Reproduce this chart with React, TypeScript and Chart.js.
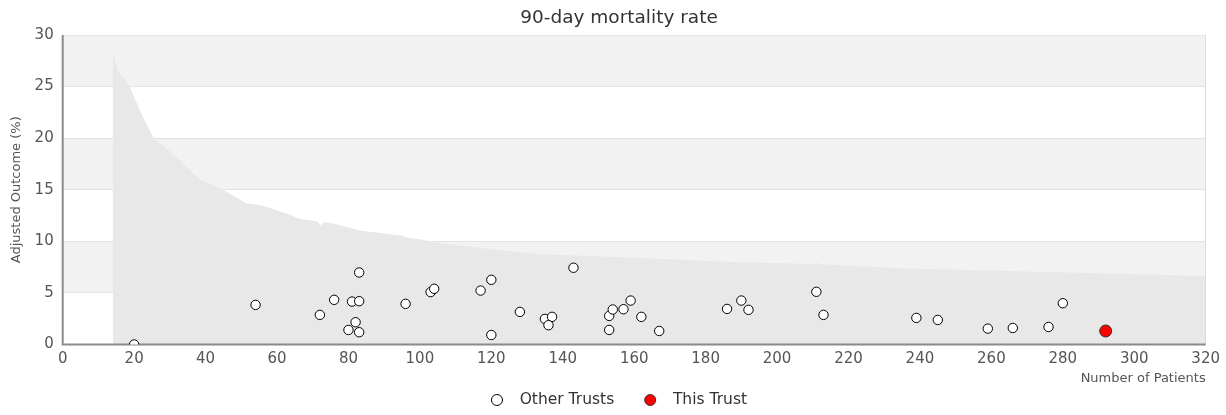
import { useEffect, useRef } from "react";
import { Chart, registerables } from "chart.js";

Chart.register(...registerables);

const TITLE = "90-day mortality rate";
const X_TITLE = "Number of Patients";
const Y_TITLE = "Adjusted Outcome (%)";
const LEGEND_LABELS = ["Other Trusts", "This Trust"];

const X_MIN = 0;
const X_MAX = 320;
const X_STEP = 20;
const Y_MIN = 0;
const Y_MAX = 30;
const Y_STEP = 5;

// shaded horizontal bands (y ranges)
const BANDS = [
  [5, 10],
  [15, 20],
  [25, 30],
];

// Upper control limit (funnel)
const limitPatients = [
  14, 15.5, 17.8, 18.8, 22.5, 25.3, 26.7, 29.5, 38.4, 40.2, 44.9, 51.4, 53.8, 58, 60.8, 63.5, 66.3,
  71.5, 72, 73.3, 76.1, 83.1, 95.2, 96, 100.8, 103.6, 119.4, 133.4, 145.5, 167, 186.6, 209.9, 211,
  212, 234, 259, 287, 320,
];
const limitOutcome = [
  28.4, 26.5, 25.6, 24.9, 22.0, 20.1, 19.6, 18.9, 16.0, 15.7, 15.0, 13.7, 13.6, 13.25, 12.9, 12.6,
  12.2, 11.9, 11.5, 11.85, 11.7, 11.05, 10.55, 10.4, 10.15, 9.9, 9.25, 8.75, 8.6, 8.3, 8.0, 7.8,
  7.95, 7.78, 7.4, 7.18, 6.93, 6.65,
];

const otherPatients = [
  20, 54, 72, 76, 81, 83, 83, 82, 80, 83, 96, 103, 104, 117, 120, 120, 128, 135, 137, 136, 143, 153,
  153, 154, 157, 159, 162, 167, 186, 190, 192, 211, 213, 239, 245, 259, 266, 276, 280,
];
const otherOutcome = [
  0, 3.84, 2.87, 4.33, 4.16, 4.2, 6.98, 2.16, 1.41, 1.19, 3.94, 5.08, 5.4, 5.23, 6.27, 0.92, 3.16,
  2.48, 2.68, 1.87, 7.44, 2.77, 1.41, 3.39, 3.42, 4.26, 2.68, 1.31, 3.45, 4.26, 3.36, 5.11, 2.87,
  2.58, 2.38, 1.54, 1.6, 1.7, 4.0,
];

const thisPatients = [292];
const thisOutcome = [1.31];

const FONT = "'DejaVu Sans', Verdana, sans-serif";

export default function App() {
  const ref = useRef<HTMLCanvasElement | null>(null);

  useEffect(() => {
    document.body.style.margin = "0";
    document.body.style.overflow = "hidden";
    const canvas = ref.current;
    if (!canvas) return;

    const bandsPlugin = {
      id: "bands",
      beforeDraw(chart: any) {
        const { ctx, chartArea, scales } = chart;
        ctx.save();
        ctx.fillStyle = "#ffffff";
        ctx.fillRect(chartArea.left, chartArea.top, chartArea.right - chartArea.left, chartArea.bottom - chartArea.top);
        ctx.fillStyle = "#f2f2f2";
        for (const [a, b] of BANDS) {
          const y1 = scales.y.getPixelForValue(b);
          const y2 = scales.y.getPixelForValue(a);
          ctx.fillRect(chartArea.left, y1, chartArea.right - chartArea.left, y2 - y1);
        }
        ctx.restore();
      },
      afterDatasetDraw(chart: any, args: any) {
        if (args.index !== 2) return;
        const { ctx, chartArea } = chart;
        ctx.save();
        ctx.strokeStyle = "#dcdcdc";
        ctx.lineWidth = 1;
        ctx.beginPath();
        ctx.moveTo(Math.round(chartArea.right) - 0.5, chartArea.top);
        ctx.lineTo(Math.round(chartArea.right) - 0.5, chartArea.bottom);
        ctx.stroke();
        ctx.strokeStyle = "#8a8a8a";
        ctx.lineWidth = 2;
        ctx.beginPath();
        ctx.moveTo(chartArea.left, chartArea.top);
        ctx.lineTo(chartArea.left, chartArea.bottom);
        ctx.lineTo(chartArea.right, chartArea.bottom);
        ctx.stroke();
        ctx.restore();
      },
      afterDraw(chart: any) {
        const { ctx } = chart;
        ctx.save();
        // title
        ctx.font = `18.5px ${FONT}`;
        ctx.textBaseline = "middle";
        ctx.textAlign = "center";
        ctx.fillStyle = "#333333";
        ctx.fillText(TITLE, 619, 18);
        // legend
        ctx.font = `15.5px ${FONT}`;
        ctx.textAlign = "left";
        const w1 = ctx.measureText(LEGEND_LABELS[0]).width;
        const w2 = ctx.measureText(LEGEND_LABELS[1]).width;
        const r = 5.5;
        const gapMarkerText = 22.7;
        const gapItems = 36;
        const total = r + gapMarkerText + w1 + gapItems + gapMarkerText + w2 + r;
        const cx = 622;
        const y = 400;
        let x = cx - total / 2 + r;
        const markers = [
          { fill: "#ffffff", stroke: "#000000" },
          { fill: "#ff0000", stroke: "#333333" },
        ];
        const widths = [w1, w2];
        for (let i = 0; i < 2; i++) {
          ctx.beginPath();
          ctx.arc(x, y, r, 0, Math.PI * 2);
          ctx.fillStyle = markers[i].fill;
          ctx.fill();
          ctx.lineWidth = 1;
          ctx.strokeStyle = markers[i].stroke;
          ctx.stroke();
          ctx.fillStyle = "#333333";
          ctx.fillText(LEGEND_LABELS[i], x + gapMarkerText, y);
          x += gapMarkerText + widths[i] + gapItems;
        }
        ctx.restore();
      },
    };

    const chart = new Chart(canvas, {
      type: "scatter",
      data: {
        datasets: [
          {
            label: LEGEND_LABELS[1],
            data: thisPatients.map((x, i) => ({ x, y: thisOutcome[i] })),
            backgroundColor: "#ff0000",
            borderColor: "#333333",
            borderWidth: 1,
            pointRadius: 6,
          },
          {
            label: LEGEND_LABELS[0],
            data: otherPatients.map((x, i) => ({ x, y: otherOutcome[i] })),
            backgroundColor: "#ffffff",
            borderColor: "#000000",
            borderWidth: 1,
            pointRadius: 4.7,
          },
          {
            type: "line",
            label: "Upper limit",
            data: limitPatients.map((x, i) => ({ x, y: limitOutcome[i] })),
            showLine: true,
            fill: "origin",
            backgroundColor: "#e8e8e8",
            borderColor: "#e8e8e8",
            borderWidth: 0,
            pointRadius: 0,
            tension: 0,
          } as any,
        ],
      },
      options: {
        responsive: false,
        animation: false,
        events: [],
        layout: { padding: { left: 0, right: 19.5, top: 35, bottom: 25.5 } },
        plugins: {
          legend: { display: false },
          tooltip: { enabled: false },
          title: { display: false },
        },
        scales: {
          x: {
            type: "linear",
            min: X_MIN,
            max: X_MAX,
            grid: { display: false, drawTicks: false },
            border: { display: false },
            ticks: {
              stepSize: X_STEP,
              color: "#555555",
              font: { family: FONT, size: 15 },
              padding: 6,
              maxRotation: 0,
              autoSkip: false,
            },
            title: {
              display: true,
              text: X_TITLE,
              align: "end",
              color: "#555555",
              font: { family: FONT, size: 13 },
              padding: { top: 0, bottom: 2.7 },
            },
            afterFit(scale: any) {
              scale.height = 45;
            },
          },
          y: {
            type: "linear",
            min: Y_MIN,
            max: Y_MAX,
            grid: { color: "#e4e4e4", lineWidth: 1, drawTicks: false },
            border: { display: false },
            ticks: {
              stepSize: Y_STEP,
              color: "#555555",
              font: { family: FONT, size: 15 },
              padding: 9,
            },
            title: {
              display: true,
              text: Y_TITLE,
              color: "#555555",
              font: { family: FONT, size: 13 },
              padding: { top: 9, bottom: 0 },
            },
            afterFit(scale: any) {
              scale.width = 62.7;
            },
          },
        },
      },
      plugins: [bandsPlugin],
    });

    return () => chart.destroy();
  }, []);

  return <canvas ref={ref} width={1226} height={415} style={{ display: "block" }} />;
}
